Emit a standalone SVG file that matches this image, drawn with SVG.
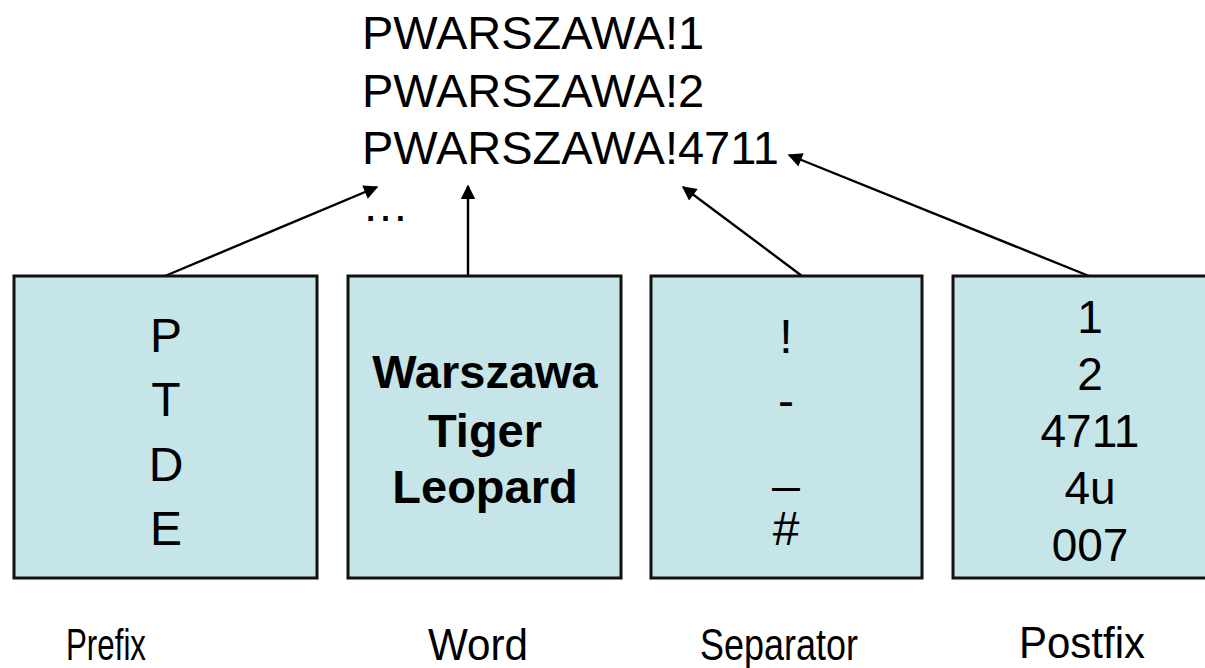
<svg xmlns="http://www.w3.org/2000/svg" width="1205" height="668" viewBox="0 0 1205 668">
<style>
.box{fill:#c5e5e8;stroke:#111;stroke-width:3}
.t{font-family:"Liberation Sans",Arial,sans-serif;font-size:46px;fill:#000;text-anchor:middle}
.big{font-size:48px}
.b{font-weight:bold;font-size:47px}
.top{font-family:"Liberation Sans",Arial,sans-serif;font-size:47px;fill:#000}
.lbl{font-family:"Liberation Sans",Arial,sans-serif;font-size:44px;fill:#000;text-anchor:middle}
.c{stroke:#000;stroke-width:2.4;fill:none;marker-end:url(#ah)}
</style>
<defs>
<marker id="ah" viewBox="0 0 10 10" refX="9" refY="5" markerWidth="7" markerHeight="6" markerUnits="strokeWidth" orient="auto">
<path d="M0,0 L10,5 L0,10 z" fill="#000"/>
</marker>
</defs>
<rect width="1205" height="668" fill="#fff"/>
<g id="results">
<text class="top" x="362" y="49">PWARSZAWA!1</text>
<text class="top" x="362" y="107">PWARSZAWA!2</text>
<text class="top" x="362" y="164">PWARSZAWA!4711</text>
<text class="top" x="362" y="221">…</text>
</g>
<g id="connectors">
<line class="c" x1="165" y1="276" x2="377" y2="187"/>
<line class="c" x1="468" y1="276" x2="468" y2="186"/>
<line class="c" x1="802" y1="276" x2="683" y2="187"/>
<line class="c" x1="1089" y1="276" x2="789" y2="155"/>
</g>
<g id="prefix">
<rect class="box" x="14" y="276" width="303" height="302"/>
<text class="t big" x="166" y="352">P</text>
<text class="t big" x="166" y="416">T</text>
<text class="t big" x="166" y="481">D</text>
<text class="t big" x="166" y="545">E</text>
<text class="lbl" x="106" y="660" textLength="80" lengthAdjust="spacingAndGlyphs">Prefix</text>
</g>
<g id="word">
<rect class="box" x="348" y="276" width="273" height="302"/>
<text class="t b" x="485" y="388">Warszawa</text>
<text class="t b" x="485" y="447">Tiger</text>
<text class="t b" x="485" y="503">Leopard</text>
<text class="lbl" x="478" y="660" textLength="100" lengthAdjust="spacingAndGlyphs">Word</text>
</g>
<g id="separator">
<rect class="box" x="651" y="276" width="271" height="302"/>
<text class="t big" x="786" y="353">!</text>
<text class="t big" x="786" y="417">-</text>
<text class="t big" x="786" y="481">_</text>
<text class="t big" x="786" y="545">#</text>
<text class="lbl" x="779" y="660" textLength="158" lengthAdjust="spacingAndGlyphs">Separator</text>
</g>
<g id="postfix">
<rect class="box" x="953" y="276" width="270" height="302"/>
<text class="t" x="1090" y="333">1</text>
<text class="t" x="1090" y="390">2</text>
<text class="t" x="1090" y="447">4711</text>
<text class="t" x="1090" y="504">4u</text>
<text class="t" x="1090" y="561">007</text>
<text class="lbl" x="1082" y="658" font-size="42" textLength="126" lengthAdjust="spacingAndGlyphs">Postfix</text>
</g>
</svg>
